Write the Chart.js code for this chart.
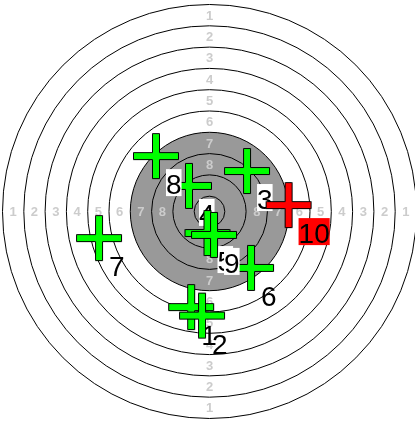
<!DOCTYPE html>
<html><head><meta charset="utf-8">
<script src="https://cdn.jsdelivr.net/npm/chart.js@4.4.0/dist/chart.umd.min.js"></script>
<style>html,body{margin:0;padding:0;background:#fff;overflow:hidden}#wrap{width:415px;height:422px;position:relative}</style>
</head><body><div id="wrap"><canvas id="c"></canvas></div>
<script>
// Target rings (air pistol target, radii in mm), score of each ring
const ringRadii = [77.75, 69.75, 61.75, 53.75, 45.75, 37.75, 29.75, 21.75, 13.75, 5.75];
const ringScores = [1, 2, 3, 4, 5, 6, 7, 8, 9, 10];
const ringLabelScores = [1, 2, 3, 4, 5, 6, 7, 8];
const blackRingScore = 7;

// Shots (mm from centre)
const shotLabels = ['1', '2', '3', '4', '5', '6', '7', '8', '9', '10'];
const shotX = [-6.9, -2.8, 14.1, -7.7, -0.75, 15.6, -41.5, -20.1, 1.7, 29.7];
const shotY = [-35.9, -39.1, 15.2, 9.6, -8.1, -21.2, -10.0, 20.8, -8.8, 2.4];

// Visible window (mm)
const xRange = [-78.69, 77.19];
const yRange = [-79.07, 79.44];

function makeCross(fill) {
  const s = 48, c = document.createElement('canvas');
  c.width = s; c.height = s;
  const g = c.getContext('2d');
  const L = 46, T = 8, o = (s - L) / 2 + 0.5, a = (s - T) / 2 + 0.5, b = a + T - 1, e = s - o;
  g.beginPath();
  g.moveTo(a, o); g.lineTo(b, o); g.lineTo(b, a); g.lineTo(e, a); g.lineTo(e, b);
  g.lineTo(b, b); g.lineTo(b, e); g.lineTo(a, e); g.lineTo(a, b); g.lineTo(o, b);
  g.lineTo(o, a); g.lineTo(a, a); g.closePath();
  g.fillStyle = fill; g.fill();
  g.strokeStyle = '#000'; g.lineWidth = 1; g.stroke();
  return c;
}
const greenCross = makeCross('#00ff00');
const redCross = makeCross('#ff0000');
const lastShot = shotLabels.length - 1;

const datasets = shotLabels.map((lab, i) => ({
  label: 'Shot ' + lab,
  data: [{ x: shotX[i], y: shotY[i] }],
  pointStyle: i === lastShot ? redCross : greenCross,
  pointRadius: 23,
  pointHoverRadius: 23,
  showLine: false,
  clip: false,
  order: shotLabels.length - i
}));

function ellipse(ctx, cx, cy, rx, ry) {
  ctx.beginPath();
  ctx.ellipse(cx, cy, Math.abs(rx), Math.abs(ry), 0, 0, Math.PI * 2);
}

const targetPlugin = {
  id: 'target',
  beforeDatasetsDraw(chart) {
    const ctx = chart.ctx, xs = chart.scales.x, ys = chart.scales.y;
    const cx = xs.getPixelForValue(0), cy = ys.getPixelForValue(0);
    ctx.save();
    ctx.fillStyle = '#fff';
    ctx.fillRect(0, 0, chart.width, chart.height);
    const rb = ringRadii[ringScores.indexOf(blackRingScore)];
    ellipse(ctx, cx, cy, xs.getPixelForValue(rb) - cx, cy - ys.getPixelForValue(rb));
    ctx.fillStyle = '#999999';
    ctx.fill();
    ctx.strokeStyle = '#000';
    ctx.lineWidth = 1;
    ringRadii.forEach(r => {
      ellipse(ctx, cx, cy, xs.getPixelForValue(r) - cx, cy - ys.getPixelForValue(r));
      ctx.stroke();
    });
    ctx.font = 'bold 13px "Liberation Sans", Arial, sans-serif';
    ctx.fillStyle = '#cccccc';
    ctx.textAlign = 'center';
    ctx.textBaseline = 'middle';
    ringLabelScores.forEach(s => {
      const k = ringScores.indexOf(s);
      const rm = (ringRadii[k] + ringRadii[k + 1]) / 2;
      const t = String(s);
      ctx.fillText(t, cx, ys.getPixelForValue(rm) + 1);
      ctx.fillText(t, cx, ys.getPixelForValue(-rm) + 1);
      ctx.fillText(t, xs.getPixelForValue(-rm), cy + 1);
      ctx.fillText(t, xs.getPixelForValue(rm), cy + 1);
    });
    ctx.restore();
  },
  afterDatasetDraw(chart, args) {
    const i = args.index;
    const el = args.meta.data[0];
    if (!el) return;
    const ctx = chart.ctx, xs = chart.scales.x, ys = chart.scales.y;
    const text = shotLabels[i];
    ctx.save();
    ctx.font = '28px "Liberation Sans", Arial, sans-serif';
    const w = ctx.measureText(text).width;
    const bx = el.x + 10, by = el.y + 13, bw = w, bh = 27;
    const mx = xs.getValueForPixel(bx + bw / 2), my = ys.getValueForPixel(by + bh / 2);
    const inBlack = Math.hypot(mx, my) < ringRadii[ringScores.indexOf(blackRingScore)];
    let bg = null;
    if (i === lastShot) bg = '#ff0000';
    else if (inBlack) bg = '#ffffff';
    if (bg) { ctx.fillStyle = bg; ctx.fillRect(bx, by, bw, bh); }
    ctx.fillStyle = '#000';
    ctx.textAlign = 'left';
    ctx.textBaseline = 'alphabetic';
    ctx.fillText(text, bx, by + 25);
    ctx.restore();
  }
};

new Chart(document.getElementById('c'), {
  type: 'scatter',
  data: { datasets },
  options: {
    responsive: true,
    maintainAspectRatio: false,
    animation: false,
    events: [],
    layout: { padding: 0, autoPadding: false },
    plugins: { legend: { display: false }, tooltip: { enabled: false } },
    scales: {
      x: { type: 'linear', min: xRange[0], max: xRange[1], display: false },
      y: { type: 'linear', min: yRange[0], max: yRange[1], display: false }
    }
  },
  plugins: [targetPlugin]
});
</script></body></html>
